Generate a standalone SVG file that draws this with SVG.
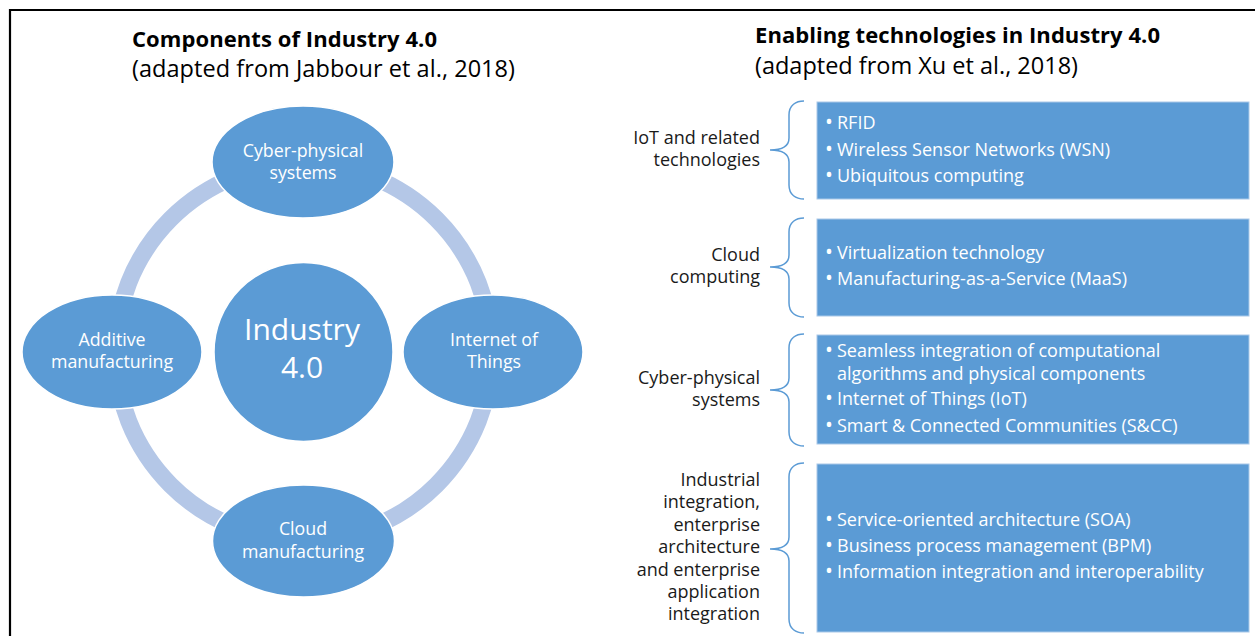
<svg xmlns="http://www.w3.org/2000/svg" width="1255" height="636" viewBox="0 0 1255 636">
<style>
  .title { font-family: "Open Sans", "Liberation Sans", sans-serif; font-weight: bold; font-size: 22px; fill: #000; }
  .sub { font-family: "Open Sans", "Liberation Sans", sans-serif; font-size: 23.5px; fill: #000; }
  .node { fill: #5b9bd5; stroke: #ffffff; stroke-width: 1.5; }
  .ntxt { font-family: "Open Sans", "Liberation Sans", sans-serif; font-size: 17.8px; fill: #ffffff; text-anchor: middle; }
  .big { font-family: "Open Sans", "Liberation Sans", sans-serif; font-size: 30px; fill: #ffffff; text-anchor: middle; }
  .lbl { font-family: "Open Sans", "Liberation Sans", sans-serif; font-size: 18px; fill: #1a1a1a; text-anchor: end; }
  .box { fill: #5b9bd5; stroke: #a9c8e8; stroke-width: 1; }
  .btxt { font-family: "Open Sans", "Liberation Sans", sans-serif; font-size: 18px; fill: #ffffff; }
  .bul { font-size: 21px; }
  .brace { fill: none; stroke: #5b9bd5; stroke-width: 1.5; }
  .ring { fill: none; stroke: #b4c7e7; stroke-width: 17; }
</style>
<rect x="0" y="0" width="1255" height="636" fill="#ffffff"/>
<path d="M10,640 V10 H1260" fill="none" stroke="#000000" stroke-width="2.2"/>

<g id="titles">
  <text class="title" x="132" y="47" textLength="305">Components of Industry 4.0</text>
  <text class="sub" x="132" y="77" textLength="383">(adapted from Jabbour et al., 2018)</text>
  <text class="title" x="755" y="43" textLength="405">Enabling technologies in Industry 4.0</text>
  <text class="sub" x="755" y="74" textLength="323">(adapted from Xu et al., 2018)</text>
</g>

<g id="connectors">
  <circle class="ring" cx="303.5" cy="352" r="188"/>
</g>

<g id="node-cps">
  <ellipse class="node" cx="303" cy="162" rx="91" ry="56"/>
  <text class="ntxt" x="303" y="157">Cyber-physical</text>
  <text class="ntxt" x="303" y="179">systems</text>
</g>
<g id="node-additive">
  <ellipse class="node" cx="112" cy="352" rx="90" ry="57"/>
  <text class="ntxt" x="112" y="346">Additive</text>
  <text class="ntxt" x="112" y="368">manufacturing</text>
</g>
<g id="node-iot">
  <ellipse class="node" cx="493" cy="352" rx="90" ry="57"/>
  <text class="ntxt" x="494" y="346">Internet of</text>
  <text class="ntxt" x="494" y="368">Things</text>
</g>
<g id="node-cloud">
  <ellipse class="node" cx="303.5" cy="541" rx="91" ry="56"/>
  <text class="ntxt" x="303" y="535">Cloud</text>
  <text class="ntxt" x="303" y="558">manufacturing</text>
</g>
<g id="node-industry">
  <circle class="node" cx="303.5" cy="352" r="89.5"/>
  <text class="big" x="302" y="340">Industry</text>
  <text class="big" x="302" y="378">4.0</text>
</g>

<g id="group-iot">
  <text class="lbl" x="760" y="144">IoT and related</text>
  <text class="lbl" x="760" y="166">technologies</text>
  <path class="brace" d="M804,101 C796,101 789,105 789,115 L789,138 C789,146 782,150 770,150 C782,150 789,154 789,162 L789,185 C789,195 796,199 804,199"/>
  <rect class="box" x="817" y="102" width="432" height="97"/>
  <text class="btxt" y="129"><tspan class="bul" x="825">•</tspan><tspan x="837">RFID</tspan></text>
  <text class="btxt" y="156"><tspan class="bul" x="825">•</tspan><tspan x="837">Wireless Sensor Networks (WSN)</tspan></text>
  <text class="btxt" y="182"><tspan class="bul" x="825">•</tspan><tspan x="837">Ubiquitous computing</tspan></text>
</g>

<g id="group-cloud">
  <text class="lbl" x="760" y="261">Cloud</text>
  <text class="lbl" x="760" y="283">computing</text>
  <path class="brace" d="M804,218 C796,218 789,222 789,232 L789,255 C789,263 782,267 770,267 C782,267 789,271 789,279 L789,303 C789,313 796,317 804,317"/>
  <rect class="box" x="817" y="219" width="432" height="97"/>
  <text class="btxt" y="259"><tspan class="bul" x="825">•</tspan><tspan x="837">Virtualization technology</tspan></text>
  <text class="btxt" y="285"><tspan class="bul" x="825">•</tspan><tspan x="837">Manufacturing-as-a-Service (MaaS)</tspan></text>
</g>

<g id="group-cps">
  <text class="lbl" x="760" y="384">Cyber-physical</text>
  <text class="lbl" x="760" y="406">systems</text>
  <path class="brace" d="M804,334 C796,334 789,338 789,348 L789,378 C789,386 782,390 770,390 C782,390 789,394 789,402 L789,432 C789,442 796,446 804,446"/>
  <rect class="box" x="817" y="335" width="432" height="109"/>
  <text class="btxt" y="357"><tspan class="bul" x="825">•</tspan><tspan x="837">Seamless integration of computational</tspan></text>
  <text class="btxt" x="837" y="380">algorithms and physical components</text>
  <text class="btxt" y="405"><tspan class="bul" x="825">•</tspan><tspan x="837">Internet of Things (IoT)</tspan></text>
  <text class="btxt" y="432"><tspan class="bul" x="825">•</tspan><tspan x="837">Smart &amp; Connected Communities (S&amp;CC)</tspan></text>
</g>

<g id="group-integration">
  <text class="lbl" x="760" y="486">Industrial</text>
  <text class="lbl" x="760" y="508">integration,</text>
  <text class="lbl" x="760" y="531">enterprise</text>
  <text class="lbl" x="760" y="553">architecture</text>
  <text class="lbl" x="760" y="576">and enterprise</text>
  <text class="lbl" x="760" y="598">application</text>
  <text class="lbl" x="760" y="620">integration</text>
  <path class="brace" d="M804,463 C796,463 789,467 789,477 L789,537 C789,545 782,549 770,549 C782,549 789,553 789,561 L789,619 C789,629 796,633 804,633"/>
  <rect class="box" x="817" y="464" width="432" height="168"/>
  <text class="btxt" y="526"><tspan class="bul" x="825">•</tspan><tspan x="837">Service-oriented architecture (SOA)</tspan></text>
  <text class="btxt" y="552"><tspan class="bul" x="825">•</tspan><tspan x="837">Business process management (BPM)</tspan></text>
  <text class="btxt" y="578"><tspan class="bul" x="825">•</tspan><tspan x="837">Information integration and interoperability</tspan></text>
</g>
</svg>
